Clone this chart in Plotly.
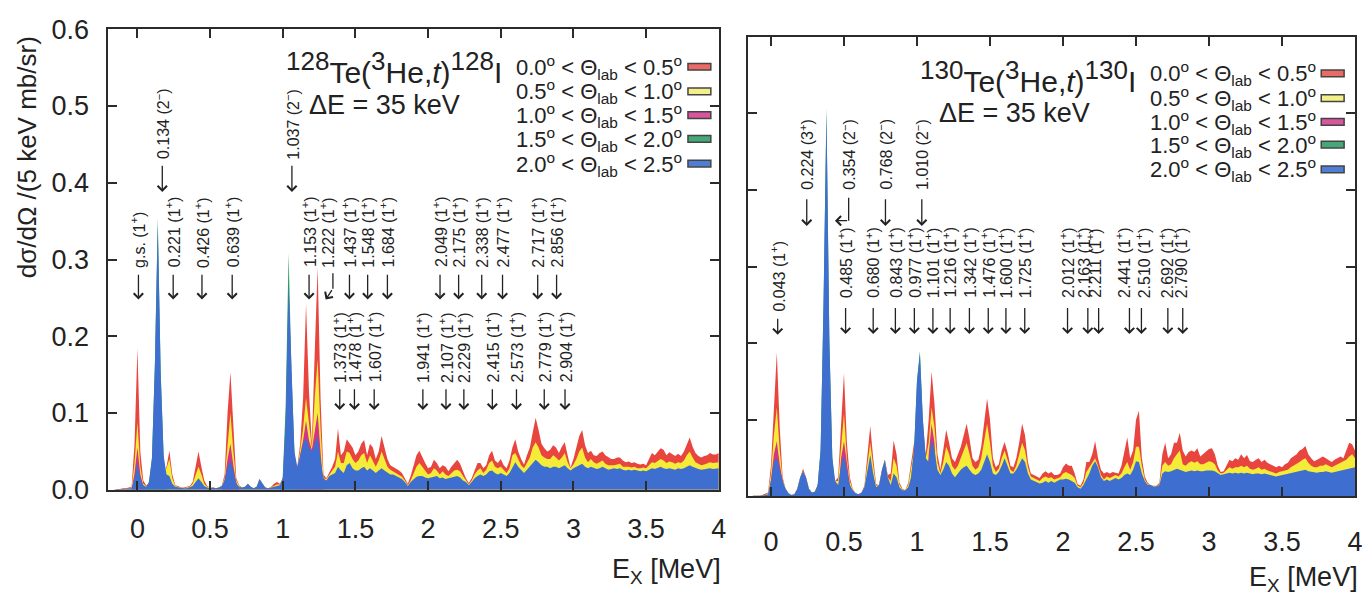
import numpy as np
import plotly.graph_objects as go

W, H = 1371, 595

# ---------------- data ----------------
# excitation-energy bins (MeV), 20 keV steps from -0.20 to 4.00
ex = np.round(np.arange(-0.20, 4.0001, 0.02), 2)

# cross sections in units of 1e-3 mb/sr per 5 keV
# 128Te(3He,t)128I
te128_red = [
    0, 0, 0, 1, 1, 2, 2, 3, 4, 60,
    184, 50, 12, 6, 8, 20, 30, 40, 30, 20,
    30, 51, 20, 6, 5, 3, 3, 4, 5, 10,
    28, 50, 30, 12, 5, 3, 3, 2, 3, 5,
    20, 100, 153, 80, 15, 6, 3, 4, 8, 4,
    2, 4, 14, 8, 3, 2, 4, 8, 10, 8,
    15, 30, 40, 30, 20, 30, 60, 120, 242, 130,
    60, 180, 290, 120, 20, 15, 22, 30, 40, 80,
    45, 50, 66, 60, 55, 45, 50, 60, 65, 45,
    60, 55, 40, 50, 70, 55, 40, 32, 30, 28,
    25, 22, 15, 8, 18, 30, 45, 51, 42, 35,
    28, 30, 39, 35, 28, 32, 30, 24, 30, 35,
    39, 34, 25, 15, 9, 15, 25, 35, 35, 28,
    32, 45, 51, 38, 35, 40, 32, 28, 38, 55,
    66, 50, 40, 33, 45, 55, 75, 94, 78, 60,
    54, 50, 52, 58, 55, 48, 56, 62, 45, 29,
    40, 55, 70, 78, 58, 48, 51, 45, 44, 48,
    50, 45, 42, 40, 40, 42, 42, 38, 36, 37,
    35, 36, 34, 33, 34, 32, 40, 48, 45, 50,
    54, 52, 45, 49, 46, 44, 47, 44, 50, 60,
    68, 56, 48, 44, 42, 44, 45, 48, 46, 46,
    48]
te128_yellow = [
    0, 0, 0, 1, 1, 1, 1, 2, 3, 35,
    88, 30, 8, 5, 8, 20, 40, 60, 40, 25,
    28, 40, 15, 5, 4, 3, 2, 3, 4, 8,
    20, 30, 20, 8, 4, 3, 3, 2, 3, 5,
    15, 60, 100, 50, 12, 5, 3, 4, 8, 4,
    2, 4, 14, 8, 3, 2, 3, 5, 7, 7,
    15, 40, 60, 40, 20, 25, 50, 80, 120, 90,
    55, 120, 170, 80, 15, 14, 20, 25, 30, 50,
    35, 35, 50, 48, 40, 35, 38, 45, 48, 35,
    45, 38, 30, 38, 50, 40, 30, 26, 24, 22,
    20, 17, 12, 6, 12, 20, 30, 35, 30, 25,
    20, 22, 28, 25, 20, 24, 20, 18, 22, 25,
    26, 24, 18, 12, 7, 12, 20, 25, 28, 22,
    26, 35, 38, 30, 28, 30, 26, 22, 28, 45,
    48, 40, 32, 28, 35, 42, 55, 62, 55, 45,
    42, 40, 40, 45, 42, 38, 42, 48, 36, 28,
    33, 40, 50, 55, 42, 36, 40, 36, 34, 36,
    38, 34, 32, 32, 32, 33, 34, 30, 30, 30,
    29, 30, 28, 28, 29, 28, 32, 36, 35, 38,
    40, 38, 35, 37, 36, 34, 36, 35, 38, 45,
    50, 42, 36, 34, 32, 33, 34, 36, 35, 36,
    36]
te128_blue = [
    0, 0, 0, 1, 1, 1, 1, 2, 2, 15,
    35, 15, 6, 4, 10, 40, 160, 345, 150, 45,
    20, 18, 8, 4, 3, 2, 2, 2, 3, 5,
    10, 15, 10, 5, 3, 2, 3, 2, 3, 5,
    12, 30, 38, 25, 8, 4, 3, 4, 8, 4,
    2, 4, 14, 8, 3, 2, 3, 4, 5, 6,
    15, 90, 270, 150, 50, 30, 45, 60, 68, 55,
    50, 60, 70, 40, 15, 12, 18, 20, 22, 30,
    25, 22, 32, 35, 28, 25, 25, 28, 30, 25,
    28, 25, 22, 25, 28, 25, 22, 20, 20, 18,
    16, 14, 10, 5, 10, 14, 17, 18, 18, 16,
    15, 16, 17, 18, 15, 16, 14, 15, 16, 17,
    18, 16, 12, 10, 6, 10, 15, 18, 20, 18,
    20, 24, 25, 22, 20, 22, 20, 18, 22, 30,
    36, 30, 26, 22, 26, 30, 35, 39, 36, 32,
    30, 30, 28, 30, 30, 28, 30, 32, 28, 25,
    28, 30, 32, 34, 30, 28, 30, 28, 27, 28,
    30, 28, 26, 27, 28, 27, 28, 26, 25, 26,
    25, 26, 25, 24, 25, 24, 26, 28, 27, 28,
    30, 28, 27, 28, 27, 26, 28, 27, 28, 30,
    32, 30, 28, 27, 26, 27, 27, 28, 27, 28,
    28]
# angular bins that only show through at a few peaks
te128_magenta_ex = [-0.04, -0.02, 0.00, 0.02, 0.04, 0.06, 0.58, 0.60, 0.62, 0.64, 0.66, 0.68, 0.70,
                    1.10, 1.12, 1.14, 1.16, 1.18, 1.20, 1.22, 1.24, 1.26, 1.28]
te128_magenta = [0, 22, 55, 20, 6, 0, 0, 13, 40, 60, 32, 10, 0,
                 0, 46, 65, 90, 65, 52, 75, 100, 50, 0]
te128_green_ex = [0.06, 0.08, 0.10, 0.12, 0.14, 0.16, 0.18, 0.20, 0.98, 1.00, 1.02, 1.04, 1.06, 1.08, 1.10]
te128_green = [0, 11, 42, 165, 354, 155, 46, 0, 0, 16, 110, 308, 155, 52, 0]

# 130Te(3He,t)130I
te130_red = [
    0, 0, 0, 0, 1, 1, 1, 2, 3, 5,
    40, 110, 188, 90, 25, 10, 4, 2, 3, 10,
    25, 36, 25, 10, 5, 6, 15, 30, 40, 50,
    40, 30, 20, 25, 100, 161, 70, 25, 10, 4,
    3, 5, 14, 55, 92, 50, 16, 15, 35, 48,
    28, 30, 73, 55, 18, 10, 8, 18, 45, 70,
    80, 100, 70, 55, 100, 163, 120, 55, 35, 60,
    87, 70, 50, 45, 55, 65, 80, 95, 75, 50,
    45, 48, 65, 95, 128, 100, 50, 38, 42, 60,
    71, 58, 40, 38, 50, 70, 95, 80, 45, 30,
    28, 26, 24, 30, 33, 30, 32, 28, 28, 30,
    38, 43, 40, 40, 30, 16, 14, 22, 45, 45,
    55, 72, 50, 35, 30, 32, 30, 32, 31, 30,
    40, 60, 77, 50, 60, 100, 112, 50, 26, 18,
    15, 14, 14, 18, 55, 70, 50, 55, 70, 70,
    83, 60, 52, 58, 60, 58, 63, 52, 55, 58,
    62, 63, 55, 40, 32, 33, 40, 48, 46, 50,
    48, 55, 50, 54, 46, 45, 48, 50, 45, 48,
    44, 42, 40, 38, 40, 38, 42, 44, 50, 52,
    55, 60, 62, 66, 55, 50, 46, 48, 50, 52,
    50, 48, 45, 48, 50, 52, 50, 60, 70, 68,
    60]
te130_yellow = [
    0, 0, 0, 0, 1, 1, 1, 1, 2, 4,
    30, 80, 116, 60, 22, 10, 4, 2, 3, 10,
    25, 33, 25, 10, 5, 6, 15, 30, 40, 50,
    40, 30, 20, 20, 70, 108, 50, 20, 9, 4,
    3, 5, 12, 45, 70, 40, 14, 15, 35, 48,
    25, 20, 50, 40, 15, 9, 8, 15, 35, 60,
    70, 80, 60, 50, 70, 116, 90, 45, 30, 45,
    65, 55, 40, 35, 40, 50, 60, 70, 55, 40,
    35, 38, 50, 70, 95, 70, 40, 32, 36, 50,
    60, 48, 35, 32, 40, 55, 70, 60, 38, 26,
    24, 22, 20, 24, 26, 24, 25, 22, 24, 25,
    30, 32, 30, 28, 24, 14, 12, 18, 32, 38,
    45, 50, 40, 28, 22, 26, 24, 26, 28, 26,
    30, 38, 45, 35, 45, 65, 65, 40, 22, 16,
    15, 13, 13, 16, 40, 45, 40, 42, 50, 55,
    60, 42, 40, 44, 46, 44, 46, 42, 42, 44,
    46, 45, 42, 34, 30, 31, 34, 38, 36, 38,
    38, 40, 38, 40, 36, 35, 36, 38, 35, 36,
    34, 33, 31, 30, 32, 33, 33, 35, 38, 40,
    42, 45, 48, 50, 44, 40, 38, 38, 40, 40,
    42, 40, 38, 40, 42, 44, 45, 48, 52, 55,
    50]
te130_blue = [
    0, 0, 0, 0, 1, 1, 1, 1, 2, 3,
    20, 45, 50, 35, 20, 10, 4, 2, 3, 10,
    25, 33, 25, 10, 5, 6, 15, 60, 250, 500,
    200, 50, 20, 15, 40, 54, 35, 15, 8, 4,
    3, 5, 12, 35, 54, 30, 12, 15, 35, 48,
    25, 15, 30, 25, 12, 8, 8, 12, 25, 60,
    150, 186, 100, 50, 45, 75, 60, 35, 28, 35,
    45, 40, 30, 25, 30, 35, 38, 40, 35, 30,
    28, 30, 35, 45, 55, 45, 30, 28, 32, 40,
    50, 40, 30, 30, 35, 42, 50, 45, 30, 22,
    20, 18, 17, 18, 20, 18, 20, 18, 20, 22,
    22, 23, 22, 20, 18, 12, 10, 15, 22, 30,
    40, 46, 38, 25, 20, 22, 20, 22, 24, 22,
    24, 28, 30, 28, 35, 46, 45, 30, 20, 15,
    15, 13, 13, 15, 30, 33, 32, 33, 34, 36,
    35, 33, 32, 33, 34, 33, 34, 33, 33, 34,
    34, 34, 33, 30, 28, 29, 30, 31, 30, 31,
    30, 31, 30, 31, 30, 29, 30, 30, 29, 30,
    29, 28, 27, 26, 27, 28, 28, 29, 30, 31,
    32, 33, 34, 35, 33, 32, 31, 31, 32, 32,
    33, 32, 31, 32, 33, 34, 35, 36, 37, 38,
    38]
te130_magenta_ex = [-0.02, 0.00, 0.02, 0.04, 0.06, 0.08, 0.10, 0.46, 0.48, 0.50, 0.52, 0.54, 0.56,
                    1.06, 1.08, 1.10, 1.12, 1.14]
te130_magenta = [0, 22, 55, 72, 42, 20, 0, 0, 50, 72, 40, 16, 0, 0, 55, 95, 70, 0]
te130_green_ex = [0.30, 0.32, 0.34, 0.36, 0.38, 0.40, 0.42, 0.44, 0.46,
                  0.94, 0.96, 0.98, 1.00, 1.02, 1.04, 1.06, 1.08]
te130_green = [0, 16, 62, 255, 508, 205, 52, 12, 0, 0, 26, 62, 152, 190, 102, 50, 0]

for arr in (te128_red, te128_yellow, te128_blue, te130_red, te130_yellow, te130_blue):
    assert len(arr) == len(ex), len(arr)

x_tickvals = [0, 0.5, 1, 1.5, 2, 2.5, 3, 3.5, 4]
x_ticktext = ['0', '0.5', '1', '1.5', '2', '2.5', '3', '3.5', '4']
y_tickvals = [0, 0.1, 0.2, 0.3, 0.4, 0.5, 0.6]
y_ticktext = ['0.0', '0.1', '0.2', '0.3', '0.4', '0.5', '0.6']

legend_labels = [
    '0.0<sup>o</sup> &lt; \u0398<sub>lab</sub> &lt; 0.5<sup>o</sup>',
    '0.5<sup>o</sup> &lt; \u0398<sub>lab</sub> &lt; 1.0<sup>o</sup>',
    '1.0<sup>o</sup> &lt; \u0398<sub>lab</sub> &lt; 1.5<sup>o</sup>',
    '1.5<sup>o</sup> &lt; \u0398<sub>lab</sub> &lt; 2.0<sup>o</sup>',
    '2.0<sup>o</sup> &lt; \u0398<sub>lab</sub> &lt; 2.5<sup>o</sup>',
]

# level labels: (energy text, spin-parity) and label positions (MeV)
te128_upper_txt = ['g.s.', '0.221', '0.426', '0.639', '1.153', '1.437', '1.548', '1.684',
                   '2.049', '2.175', '2.338', '2.477', '2.717', '2.856']
te128_upper_x = [0.007, 0.246, 0.444, 0.652, 1.181, 1.459, 1.584, 1.720,
                 2.082, 2.210, 2.369, 2.512, 2.754, 2.884]
te128_neg_txt = ['0.134', '1.037']
te128_neg_x = [0.171, 1.063]
te128_lower_txt = ['1.373', '1.478', '1.607', '1.941', '2.107', '2.229', '2.415', '2.573', '2.779', '2.904']
te128_lower_x = [1.392, 1.493, 1.629, 1.964, 2.123, 2.246, 2.442, 2.608, 2.799, 2.942]

te130_top_txt = ['0.224 (3<sup>+</sup>)', '0.768 (2<sup>\u2212</sup>)', '1.010 (2<sup>\u2212</sup>)']
te130_top_x = [0.245, 0.784, 1.033]
te130_pos_txt = ['0.485', '0.680', '0.843', '0.977', '1.101', '1.216', '1.342', '1.476', '1.600',
                 '1.725', '2.012', '2.163', '2.211', '2.441', '2.510', '2.692', '2.790']
te130_pos_x = [0.511, 0.700, 0.852, 0.982, 1.109, 1.227, 1.359, 1.488, 1.609,
               1.738, 2.031, 2.140, 2.215, 2.414, 2.554, 2.710, 2.806]
te130_pos_arrow_x = [0.511, 0.700, 0.852, 0.982, 1.109, 1.227, 1.359, 1.488, 1.609,
                     1.738, 2.031, 2.170, 2.244, 2.455, 2.537, 2.718, 2.820]

# ---------------- styling ----------------
FONT = 'Liberation Sans, Arial, Helvetica, sans-serif'
RED, YEL, MAG, GRN, BLU = '#e9453f', '#f5ec3a', '#d3348a', '#2f9e62', '#3e6fd0'
BOX = ['#ec6a66', '#f4ef86', '#d9559e', '#45a877', '#4f7fd4']
TXT = '#222222'
AX = '#2b2b2b'


def px(x):
    return x / W


def py(y):
    return 1 - y / H


fig = go.Figure()


def add_panel(xa, ya, red, yellow, mag_x, mag, grn_x, grn, blue):
    layers = [(ex, red, RED), (ex, yellow, YEL), (mag_x, mag, MAG), (grn_x, grn, GRN), (ex, blue, BLU)]
    for xs, ys, c in layers:
        fig.add_trace(go.Scatter(
            x=xs, y=np.array(ys) / 1000.0, mode='lines', fill='tozeroy',
            fillcolor=c, line=dict(width=0, color=c),
            xaxis=xa, yaxis=ya, showlegend=False, hoverinfo='skip'))


add_panel('x', 'y', te128_red, te128_yellow, te128_magenta_ex, te128_magenta,
          te128_green_ex, te128_green, te128_blue)
add_panel('x2', 'y2', te130_red, te130_yellow, te130_magenta_ex, te130_magenta,
          te130_green_ex, te130_green, te130_blue)

annotations = []
shapes = []
LBL = 16


def label(xr, yr, x, y, text):
    annotations.append(dict(xref=xr, yref=yr, x=x, y=y, text=text, showarrow=False,
                            textangle=-90, xanchor='center', yanchor='bottom',
                            font=dict(size=LBL, color=TXT, family=FONT)))


def arrow(xr, yr, x, y_tail, y_head, x_tail=None):
    annotations.append(dict(xref=xr, yref=yr, axref=xr, ayref=yr, x=x, y=y_head,
                            ax=x if x_tail is None else x_tail, ay=y_tail, text='',
                            showarrow=True, arrowhead=4, arrowsize=1.4, arrowwidth=1.3,
                            arrowcolor=TXT))


def seg(xr, yr, x0, y0, x1, y1):
    shapes.append(dict(type='line', xref=xr, yref=yr, x0=x0, y0=y0, x1=x1, y1=y1,
                       line=dict(color=TXT, width=1.3)))


POS = ' (1<sup>+</sup>)'
NEG = ' (2<sup>\u2212</sup>)'

# 128Te panel labels
for t, x in zip(te128_upper_txt, te128_upper_x):
    label('x', 'y', x, 0.287, t + POS)
    arrow('x', 'y', x, 0.282, 0.248)
label('x', 'y', 1.304, 0.287, '1.222' + POS)
seg('x', 'y', 1.345, 0.282, 1.345, 0.262)
arrow('x', 'y', 1.295, 0.262, 0.248, x_tail=1.345)
for t, x in zip(te128_neg_txt, te128_neg_x):
    label('x', 'y', x, 0.428, t + NEG)
    arrow('x', 'y', x, 0.424, 0.388)
for t, x in zip(te128_lower_txt, te128_lower_x):
    label('x', 'y', x, 0.137, t + POS)
    arrow('x', 'y', x, 0.133, 0.104)

# 130Te panel labels
for t, x in zip(te130_top_txt, te130_top_x):
    label('x2', 'y2', x, 0.398, t)
    arrow('x2', 'y2', x, 0.390, 0.353)
label('x2', 'y2', 0.532, 0.398, '0.354' + NEG)
seg('x2', 'y2', 0.532, 0.390, 0.532, 0.360)
arrow('x2', 'y2', 0.438, 0.360, 0.360, x_tail=0.532)
label('x2', 'y2', 0.046, 0.239, '0.043' + POS)
arrow('x2', 'y2', 0.046, 0.234, 0.211)
for t, x, xa in zip(te130_pos_txt, te130_pos_x, te130_pos_arrow_x):
    label('x2', 'y2', x, 0.2565, t + POS)
    arrow('x2', 'y2', xa, 0.248, 0.212)


# panel titles
def iso(n):
    return "<sup><span style='font-size:26px'>" + n + "</span></sup>"


for txt, x0, yc, fs in [
    (iso('128') + 'Te(' + iso('3') + 'He,<i>t</i>)' + iso('128') + 'I', 286, 55, 30),
    ('\u0394E = 35 keV', 309, 95, 27),
    (iso('130') + 'Te(' + iso('3') + 'He,<i>t</i>)' + iso('130') + 'I', 923, 65, 30),
    ('\u0394E = 35 keV', 943, 103, 27),
]:
    annotations.append(dict(xref='paper', yref='paper', x=px(x0), y=py(yc), text=txt,
                            showarrow=False, xanchor='left', yanchor='middle',
                            font=dict(size=fs, color=TXT, family=FONT)))

# legends (text + colour boxes)
for x_right, box_x0, box_x1, centers in [
    (688, 692, 715, [55, 81, 106, 131, 157]),
    (1326, 1329, 1352, [62, 88, 113, 137, 163]),
]:
    for lab, yc, col in zip(legend_labels, centers, BOX):
        annotations.append(dict(xref='paper', yref='paper', x=px(x_right), y=py(yc), text=lab,
                                showarrow=False, xanchor='right', yanchor='middle',
                                font=dict(size=22, color=TXT, family=FONT)))
        shapes.append(dict(type='rect', xref='paper', yref='paper',
                           x0=px(box_x0), x1=px(box_x1), y0=py(yc + 3), y1=py(yc - 4),
                           fillcolor=col, line=dict(color='#444444', width=1.5)))

# axis titles
annotations.append(dict(xref='paper', yref='paper', x=px(28), y=py(150),
                        text='d\u03c3/d\u03a9 /(5 keV mb/sr)', textangle=-90, showarrow=False,
                        xanchor='center', yanchor='middle',
                        font=dict(size=26, color=TXT, family=FONT)))
for xr, yc in [(727, 586), (1368, 594)]:
    annotations.append(dict(xref='paper', yref='paper', x=px(xr), y=py(yc),
                            text='E<sub>X</sub> [MeV]', showarrow=False,
                            xanchor='right', yanchor='middle',
                            font=dict(size=27, color=TXT, family=FONT)))

axis_common = dict(showline=True, linewidth=2, linecolor=AX, mirror='ticks', ticks='inside',
                   ticklen=9, tickwidth=2, tickcolor=AX, showgrid=False, zeroline=False,
                   tickfont=dict(size=27, color=TXT, family=FONT))

fig.update_layout(
    width=W, height=H, margin=dict(l=0, r=0, t=0, b=0),
    paper_bgcolor='white', plot_bgcolor='white',
    font=dict(family=FONT, color=TXT),
    showlegend=False,
    xaxis=dict(domain=[px(109), px(723)], range=[-0.2, 4.0], anchor='y',
               tickvals=x_tickvals, ticktext=x_ticktext, ticklabelstandoff=14, **axis_common),
    yaxis=dict(domain=[py(500), py(15)], range=[0, 0.6], anchor='x',
               tickvals=y_tickvals, ticktext=y_ticktext, ticklabelstandoff=12, **axis_common),
    xaxis2=dict(domain=[px(752), px(1363)], range=[-0.16, 4.0], anchor='y2',
                tickvals=x_tickvals, ticktext=x_ticktext, ticklabelstandoff=20, **axis_common),
    yaxis2=dict(domain=[py(507), py(23)], range=[0, 0.6], anchor='x2',
                tickvals=y_tickvals, showticklabels=False, **axis_common),
    annotations=annotations,
    shapes=shapes,
)

fig.write_html('out.html', config={'displayModeBar': False},
               post_script="document.body.style.margin='0px';document.body.style.overflow='hidden';")
